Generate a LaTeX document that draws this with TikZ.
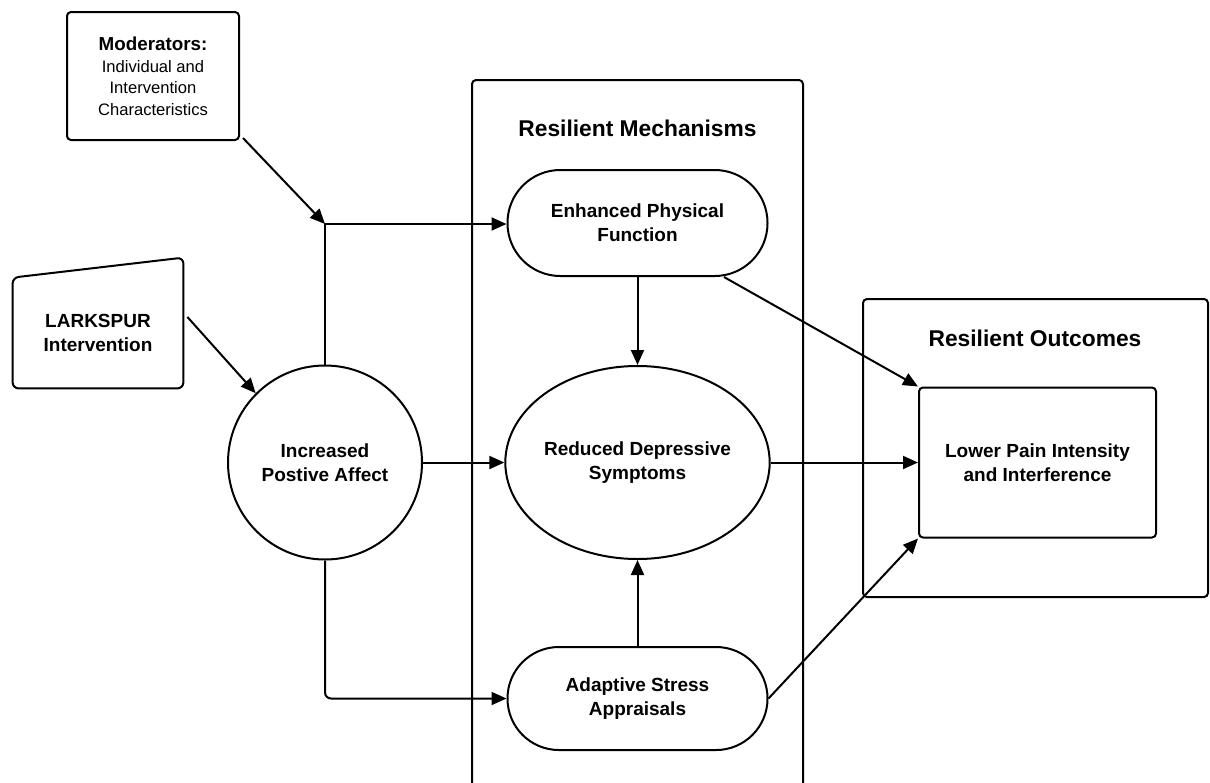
\documentclass[tikz,border=0pt]{standalone}
\usepackage{fontspec}
\setmainfont{Liberation Sans}
\usetikzlibrary{arrows.meta,calc,shapes.geometric}
\begin{document}
\begin{tikzpicture}[x=0.5pt,y=-0.5pt,
  conn/.style={line width=1pt, line join=round},
  arr/.style={conn,-{Triangle[length=7.5pt,width=6.5pt]}},
  txt/.style={font=\bfseries\fontsize{9.5}{12}\selectfont, align=center, inner sep=0pt},
  stadium/.style={draw, line width=1pt, rounded corners=26.4pt, minimum width=130pt, minimum height=53pt, txt},
  box/.style={draw, line width=1pt, rounded corners=2pt, txt},
  title/.style={font=\bfseries\fontsize{11.4}{14}\selectfont, inner sep=0pt}
]
\useasboundingbox (0,0) rectangle (1210,782);

% Resilient Mechanisms frame (open at the bottom)
\draw[conn, rounded corners=2pt] (472,790) -- (472,80) -- (803,80) -- (803,790);
\node[title] (mechtitle) at (637.5,128) {Resilient Mechanisms};

% Resilient Outcomes frame
\node[draw, line width=1pt, rounded corners=2pt, minimum width=172.5pt, minimum height=149pt, inner sep=0pt] (outbox) at (1035.5,448) {};
\node[title] (outtitle) at (1035,338) {Resilient Outcomes};

% Moderators
\node[box, font=\fontsize{8.3}{10.6}\selectfont, minimum width=86pt, minimum height=64pt] (mod) at (153,76)
  {{\bfseries\fontsize{9.4}{11}\selectfont Moderators:}\\[0.5pt]Individual and\\Intervention\\Characteristics};

% LARKSPUR
\node[minimum width=85pt, minimum height=65pt, inner sep=0pt] (lark) at (98,323) {};
\draw[conn, rounded corners=3pt] (lark.south west) -- ($(lark.north west)+(0,20)$) -- (lark.north east) -- (lark.south east) -- cycle;
\node[txt] (larktxt) at (98,333) {LARKSPUR\\Intervention};

% Increased Positive Affect
\node[draw, circle, line width=1pt, minimum size=97pt, txt] (ipa) at (325,462.5) {Increased\\Postive Affect};

% Mechanisms
\node[stadium] (enh) at (637.5,223) {Enhanced Physical\\Function};
\node[draw, ellipse, line width=1pt, minimum width=129pt, minimum height=96.5pt, inner sep=0pt, txt] (red) at (637.5,462.5) {Reduced Depressive\\Symptoms};
\node[stadium, minimum height=51.5pt, rounded corners=25.7pt] (adapt) at (637.5,698.5) {Adaptive Stress\\Appraisals};

% Outcome
\node[box, minimum width=118.5pt, minimum height=75pt] (pain) at (1037.5,462.5) {Lower Pain Intensity\\and Interference};

% connectors
\coordinate (jn) at (325,224);
\draw[arr] ($(mod.south east)+(3,-3)$) -- (jn);
\draw[arr] ($(lark.east)+(4,-6)$) -- (ipa.135);
\draw[arr] (ipa.north) -- (jn) -- (enh.west |- jn);
\draw[arr] (ipa.east) -- (red.west);
\draw[arr, rounded corners=3pt] (ipa.south) |- (adapt.west);
\draw[arr] (enh.south) -- (red.north);
\draw[arr] (adapt.north) -- (red.south);
\draw[arr] ($(enh.south)!0.66!(enh.south east)$) -- (pain.north west);
\draw[arr] (red.east) -- (pain.west);
\draw[arr] (adapt.east) -- (pain.south west);
\end{tikzpicture}
\end{document}
